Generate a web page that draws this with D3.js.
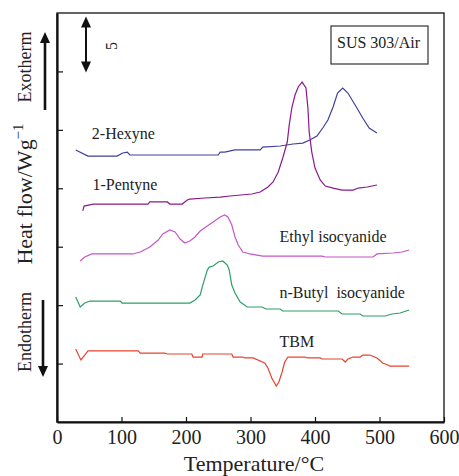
<!DOCTYPE html>
<html>
<head>
<meta charset="utf-8">
<script src="https://cdn.jsdelivr.net/npm/d3@7"></script>
<style>
  body { margin: 0; background: #fff; }
  svg text { font-family: "Liberation Serif", "Times New Roman", serif; fill: #222; }
</style>
</head>
<body>
<svg width="459" height="476"></svg>
<script>
// temperature (°C), heat flow (W/g, curves offset vertically)
var hexyne = [[29,23.28],[48,22.76],[93,22.76],[102,23.02],[109,23.10],[113,22.85],[250,22.85],[253,23.10],
  [260,23.10],[276,23.28],[315,23.28],[319,23.53],[346,23.62],[366,23.79],[381,23.87],[392,24.13],[403,24.47],
  [412,25.16],[420,25.84],[428,26.96],[435,28.15],[443,28.58],[451,28.15],[465,26.87],[474,26.01],[484,25.16],[496,24.73]];

var pentyne = [[40,18.06],[42,18.48],[56,18.65],[141,18.65],[144,18.83],[171,18.83],[175,18.65],[194,18.65],
  [202,19.00],[206,19.08],[229,19.17],[253,19.25],[268,19.34],[302,19.51],[315,19.68],[327,20.11],[335,20.54],
  [343,21.39],[350,22.59],[357,23.96],[360,25.41],[364,26.87],[369,27.98],[374,28.67],[380,29.09],[386,28.58],
  [389,26.87],[391,24.82],[395,23.10],[400,21.73],[408,20.71],[416,20.19],[428,20.02],[442,19.85],[459,19.85],
  [467,20.02],[481,20.11],[496,20.28]];

var ethyl = [[36,13.78],[43,14.12],[54,14.38],[118,14.38],[129,14.55],[144,14.97],[157,15.57],[164,16.09],
  [175,16.43],[183,16.26],[191,15.66],[198,15.32],[206,15.49],[214,15.83],[222,16.34],[233,16.77],[242,17.11],
  [253,17.54],[260,17.71],[265,17.54],[271,16.86],[276,15.83],[281,15.15],[288,14.55],[299,14.38],[319,14.20],
  [411,14.20],[416,14.12],[490,14.12],[496,14.38],[521,14.46],[535,14.55],[546,14.72]];

var butyl = [[29,10.70],[36,9.84],[43,10.18],[51,10.35],[98,10.35],[101,10.18],[206,10.18],[214,10.44],
  [222,10.87],[226,11.72],[233,13.01],[236,13.26],[242,13.35],[250,13.69],[257,13.78],[264,13.43],[267,13.01],
  [271,11.72],[276,11.04],[284,10.27],[295,9.84],[318,9.84],[324,9.67],[346,9.67],[350,9.50],[436,9.50],
  [442,9.24],[470,9.24],[474,9.07],[509,9.07],[519,9.24],[532,9.33],[546,9.58]];

var tbm = [[29,6.25],[37,5.31],[43,5.73],[48,6.08],[126,6.08],[129,5.90],[167,5.90],[171,5.82],[209,5.82],
  [211,5.56],[225,5.56],[226,5.82],[271,5.82],[273,5.56],[288,5.56],[291,5.48],[304,5.48],[322,5.05],
  [327,4.62],[333,3.77],[340,3.08],[344,3.42],[349,4.28],[353,5.13],[358,5.56],[385,5.56],[388,5.48],
  [408,5.48],[411,5.39],[442,5.39],[447,5.13],[451,5.39],[459,5.56],[470,5.56],[474,5.73],[485,5.73],
  [496,5.48],[505,5.05],[513,4.88],[516,4.79],[546,4.79]];

var names = ["2-Hexyne", "1-Pentyne", "Ethyl isocyanide", "n-Butyl  isocyanide", "TBM"];
var colors = ["#40409c", "#8a1a8c", "#c457c8", "#2f9e66", "#e8432e"];
var xTicks = [0, 100, 200, 300, 400, 500, 600];
var yTicks = [5, 10, 15, 20, 25, 30];

var svg = d3.select("svg"),
    margin = {left: 57, top: 13, right: 15, bottom: 54},
    width = +svg.attr("width"),
    height = +svg.attr("height");

var x = d3.scaleLinear().domain([0, 600]).range([margin.left, width - margin.right]);
var y = d3.scaleLinear().domain([0, 35]).range([height - margin.bottom, margin.top]);

var line = d3.line().x(d => x(d[0])).y(d => y(d[1]));

// frame
svg.append("rect")
    .attr("x", x(0)).attr("y", y(35))
    .attr("width", x(600) - x(0)).attr("height", y(0) - y(35))
    .attr("fill", "none").attr("stroke", "#111").attr("stroke-width", 1.3);

var xAxis = svg.append("g")
    .attr("transform", "translate(0," + y(0) + ")")
    .call(d3.axisBottom(x).tickValues(xTicks).tickSize(-5).tickSizeOuter(0).tickPadding(8));
xAxis.selectAll("text").style("font-size", "20px").attr("fill", "#222");

var yAxis = svg.append("g")
    .attr("transform", "translate(" + x(0) + ",0)")
    .call(d3.axisLeft(y).tickValues(yTicks).tickSize(-6).tickSizeOuter(0).tickFormat(""));

svg.selectAll(".domain").attr("stroke", "#111").attr("stroke-width", 2.2);
svg.selectAll(".tick line").attr("stroke", "#111").attr("stroke-width", 1.2);

// curves
var series = [hexyne, pentyne, ethyl, butyl, tbm];
svg.append("g").selectAll("path")
  .data(series)
  .enter().append("path")
    .attr("d", line)
    .attr("fill", "none")
    .attr("stroke", (d, i) => colors[i])
    .attr("stroke-width", 1.2);

// curve names
var labelAt = [[54, 24.2], [55, 19.85], [345, 15.4], [345, 10.6], [345, 6.45]];
svg.append("g").selectAll("text")
  .data(names)
  .enter().append("text")
    .attr("x", (d, i) => x(labelAt[i][0]))
    .attr("y", (d, i) => y(labelAt[i][1]))
    .attr("xml:space", "preserve")
    .style("white-space", "pre")
    .style("font-size", "16px")
    .text(d => d);

// condition box
svg.append("rect")
    .attr("x", 331).attr("y", 26).attr("width", 97).attr("height", 38)
    .attr("fill", "none").attr("stroke", "#333").attr("stroke-width", 1.2);
svg.append("text")
    .attr("x", 337).attr("y", 48)
    .style("font-size", "16px")
    .text("SUS 303/Air");

// axis titles
svg.append("text")
    .attr("x", 254).attr("y", 471)
    .attr("text-anchor", "middle")
    .style("font-size", "22px")
    .text("Temperature/°C");

var yl = svg.append("text")
    .attr("transform", "translate(32,194) rotate(-90)")
    .attr("text-anchor", "middle")
    .style("font-size", "22px");
yl.append("tspan").text("Heat flow/Wg");
yl.append("tspan").attr("dy", -9).style("font-size", "15px").text("\u22121");

svg.append("text")
    .attr("transform", "translate(31,67) rotate(-90)")
    .attr("text-anchor", "middle")
    .style("font-size", "18px")
    .text("Exotherm");
svg.append("text")
    .attr("transform", "translate(31,332) rotate(-90)")
    .attr("text-anchor", "middle")
    .style("font-size", "18px")
    .text("Endotherm");

// arrows
function arrowHead(cx, tipY, dir) {
  var h = 11 * dir;
  svg.append("path")
    .attr("d", "M" + cx + "," + tipY + " L" + (cx - 5) + "," + (tipY + h) + " L" + (cx + 5) + "," + (tipY + h) + " Z")
    .attr("fill", "#111");
}
function shaft(cx, y1, y2, w) {
  svg.append("line")
    .attr("x1", cx).attr("x2", cx).attr("y1", y1).attr("y2", y2)
    .attr("stroke", "#111").attr("stroke-width", w);
}

shaft(45, 110, 40, 2.6);
arrowHead(45, 32, 1);
shaft(43, 300, 368, 2.6);
arrowHead(43, 377, -1);

// 5 W/g scale bar
shaft(86, 25, 65, 2);
arrowHead(86, y(34.7), 1);
arrowHead(86, y(29.9), -1);
svg.append("text")
    .attr("transform", "translate(117,46) rotate(-90)")
    .attr("text-anchor", "middle")
    .style("font-size", "16px")
    .text("5");
</script>
</body>
</html>
